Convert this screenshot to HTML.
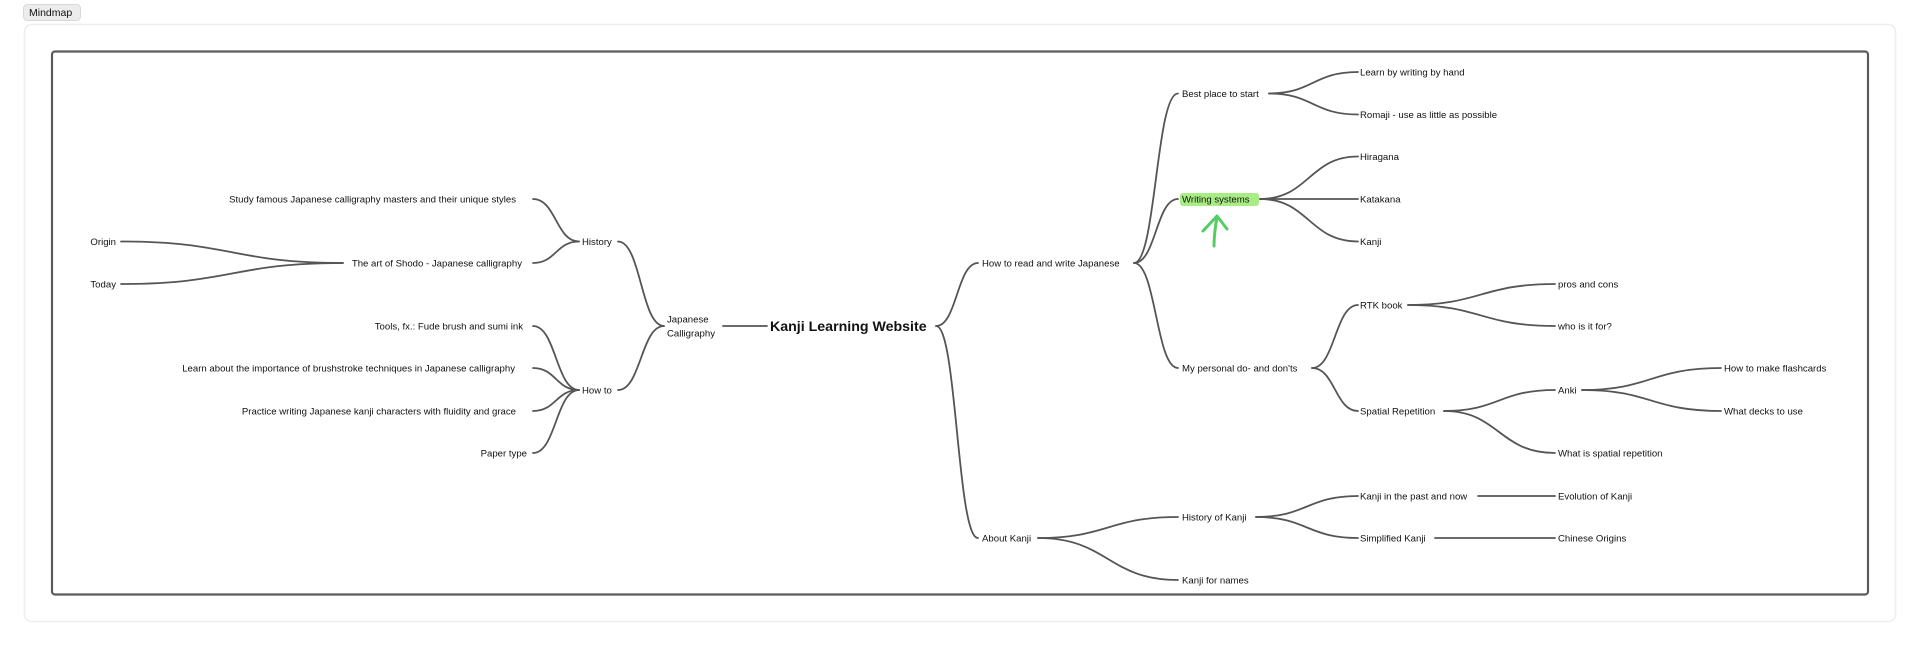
<!DOCTYPE html>
<html><head><meta charset="utf-8"><style>
html,body{margin:0;padding:0;background:#fff;width:1920px;height:646px;overflow:hidden}
svg{display:block}
text{font-family:"Liberation Sans",sans-serif;font-size:9.6px;fill:#111}
</style></head><body>
<svg width="1920" height="646" viewBox="0 0 1920 646">
<rect x="23.5" y="4.5" width="57" height="16" rx="4" fill="#ececec" stroke="#d8d8d8"/>
<text x="29" y="16" style="font-size:10.5px">Mindmap</text>
<rect x="24.5" y="24.5" width="1871" height="597" rx="7" fill="#fff" stroke="#eeeeee" stroke-width="1.5"/>
<rect x="52" y="51.5" width="1816" height="543" rx="3" fill="#fff" stroke="#5a5a5a" stroke-width="2.2"/>
<g fill="none" stroke="#555" stroke-width="1.8" stroke-linecap="round">
<!-- left -->
<path d="M533 199 C556 199,556 241.5,579 241.5"/>
<path d="M533 263 C556 263,556 241.5,579 241.5"/>
<path d="M121 241.5 C232 241.5,232 263,343 263"/>
<path d="M121 284 C232 284,232 263,343 263"/>
<path d="M618 241.5 C641 241.5,641 326,664 326"/>
<path d="M618 390 C641 390,641 326,664 326"/>
<path d="M533 326 C556 326,556 390,579 390"/>
<path d="M533 368 C556 368,556 390,579 390"/>
<path d="M533 411 C556 411,556 390,579 390"/>
<path d="M533 453 C556 453,556 390,579 390"/>
<path d="M723 326 L767 326"/>
<!-- right -->
<path d="M936 326 C957 326,957 263,978 263"/>
<path d="M936 326 C957 326,957 538,978 538"/>
<path d="M1134 263 C1156 263,1156 93.5,1178 93.5"/>
<path d="M1134 263 C1156 263,1156 199,1178 199"/>
<path d="M1134 263 C1156 263,1156 368,1178 368"/>
<path d="M1269 93.5 C1313 93.5,1313 72,1358 72"/>
<path d="M1269 93.5 C1313 93.5,1313 114.5,1358 114.5"/>
<path d="M1260 199 C1309 199,1309 156.5,1358 156.5"/>
<path d="M1260 199 L1358 199"/>
<path d="M1260 199 C1309 199,1309 241.5,1358 241.5"/>
<path d="M1312 368 C1335 368,1335 305,1358 305"/>
<path d="M1312 368 C1335 368,1335 411,1358 411"/>
<path d="M1408 305 C1481 305,1481 284,1555 284"/>
<path d="M1408 305 C1481 305,1481 326,1555 326"/>
<path d="M1444 411 C1499 411,1499 390,1555 390"/>
<path d="M1444 411 C1499 411,1499 453,1555 453"/>
<path d="M1582 390 C1651 390,1651 368,1721 368"/>
<path d="M1582 390 C1651 390,1651 411,1721 411"/>
<path d="M1038 538 C1108 538,1108 517,1178 517"/>
<path d="M1038 538 C1108 538,1108 580,1178 580"/>
<path d="M1256 517 C1307 517,1307 496,1358 496"/>
<path d="M1256 517 C1307 517,1307 538,1358 538"/>
<path d="M1478 496 L1555 496"/>
<path d="M1435 538 L1555 538"/>
</g>
<rect x="1180" y="193" width="79" height="13" rx="3" fill="#a8ec84"/>
<g fill="none" stroke="#55cc66" stroke-width="3" stroke-linecap="round" stroke-linejoin="round">
<path d="M1203 231 L1217 216 L1227 229"/>
<path d="M1217 217 C1215 228,1214 238,1214 246"/>
</g>
<g text-anchor="end">
<text x="516" y="202.5">Study famous Japanese calligraphy masters and their unique styles</text>
<text x="116" y="245">Origin</text>
<text x="116" y="287.5">Today</text>
<text x="522" y="266.5">The art of Shodo - Japanese calligraphy</text>
<text x="523" y="329.5">Tools, fx.: Fude brush and sumi ink</text>
<text x="515" y="371.5">Learn about the importance of brushstroke techniques in Japanese calligraphy</text>
<text x="516" y="414.5">Practice writing Japanese kanji characters with fluidity and grace</text>
<text x="527" y="456.5">Paper type</text>
</g>
<text x="582" y="245">History</text>
<text x="582" y="393.5">How to</text>
<text x="667" y="322.5">Japanese</text>
<text x="667" y="336.5">Calligraphy</text>
<text x="770" y="331" style="font-size:14.2px;font-weight:bold">Kanji Learning Website</text>
<text x="982" y="266.5">How to read and write Japanese</text>
<text x="982" y="541.5">About Kanji</text>
<text x="1182" y="97">Best place to start</text>
<text x="1182" y="202.5">Writing systems</text>
<text x="1182" y="371.5">My personal do- and don'ts</text>
<text x="1360" y="75.5">Learn by writing by hand</text>
<text x="1360" y="118">Romaji - use as little as possible</text>
<text x="1360" y="160">Hiragana</text>
<text x="1360" y="202.5">Katakana</text>
<text x="1360" y="245">Kanji</text>
<text x="1360" y="308.5">RTK book</text>
<text x="1360" y="414.5">Spatial Repetition</text>
<text x="1558" y="287.5">pros and cons</text>
<text x="1558" y="329.5">who is it for?</text>
<text x="1558" y="393.5">Anki</text>
<text x="1558" y="456.5">What is spatial repetition</text>
<text x="1724" y="371.5">How to make flashcards</text>
<text x="1724" y="414.5">What decks to use</text>
<text x="1182" y="520.5">History of Kanji</text>
<text x="1182" y="583.5">Kanji for names</text>
<text x="1360" y="499.5">Kanji in the past and now</text>
<text x="1360" y="541.5">Simplified Kanji</text>
<text x="1558" y="499.5">Evolution of Kanji</text>
<text x="1558" y="541.5">Chinese Origins</text>
</svg>
</body></html>
